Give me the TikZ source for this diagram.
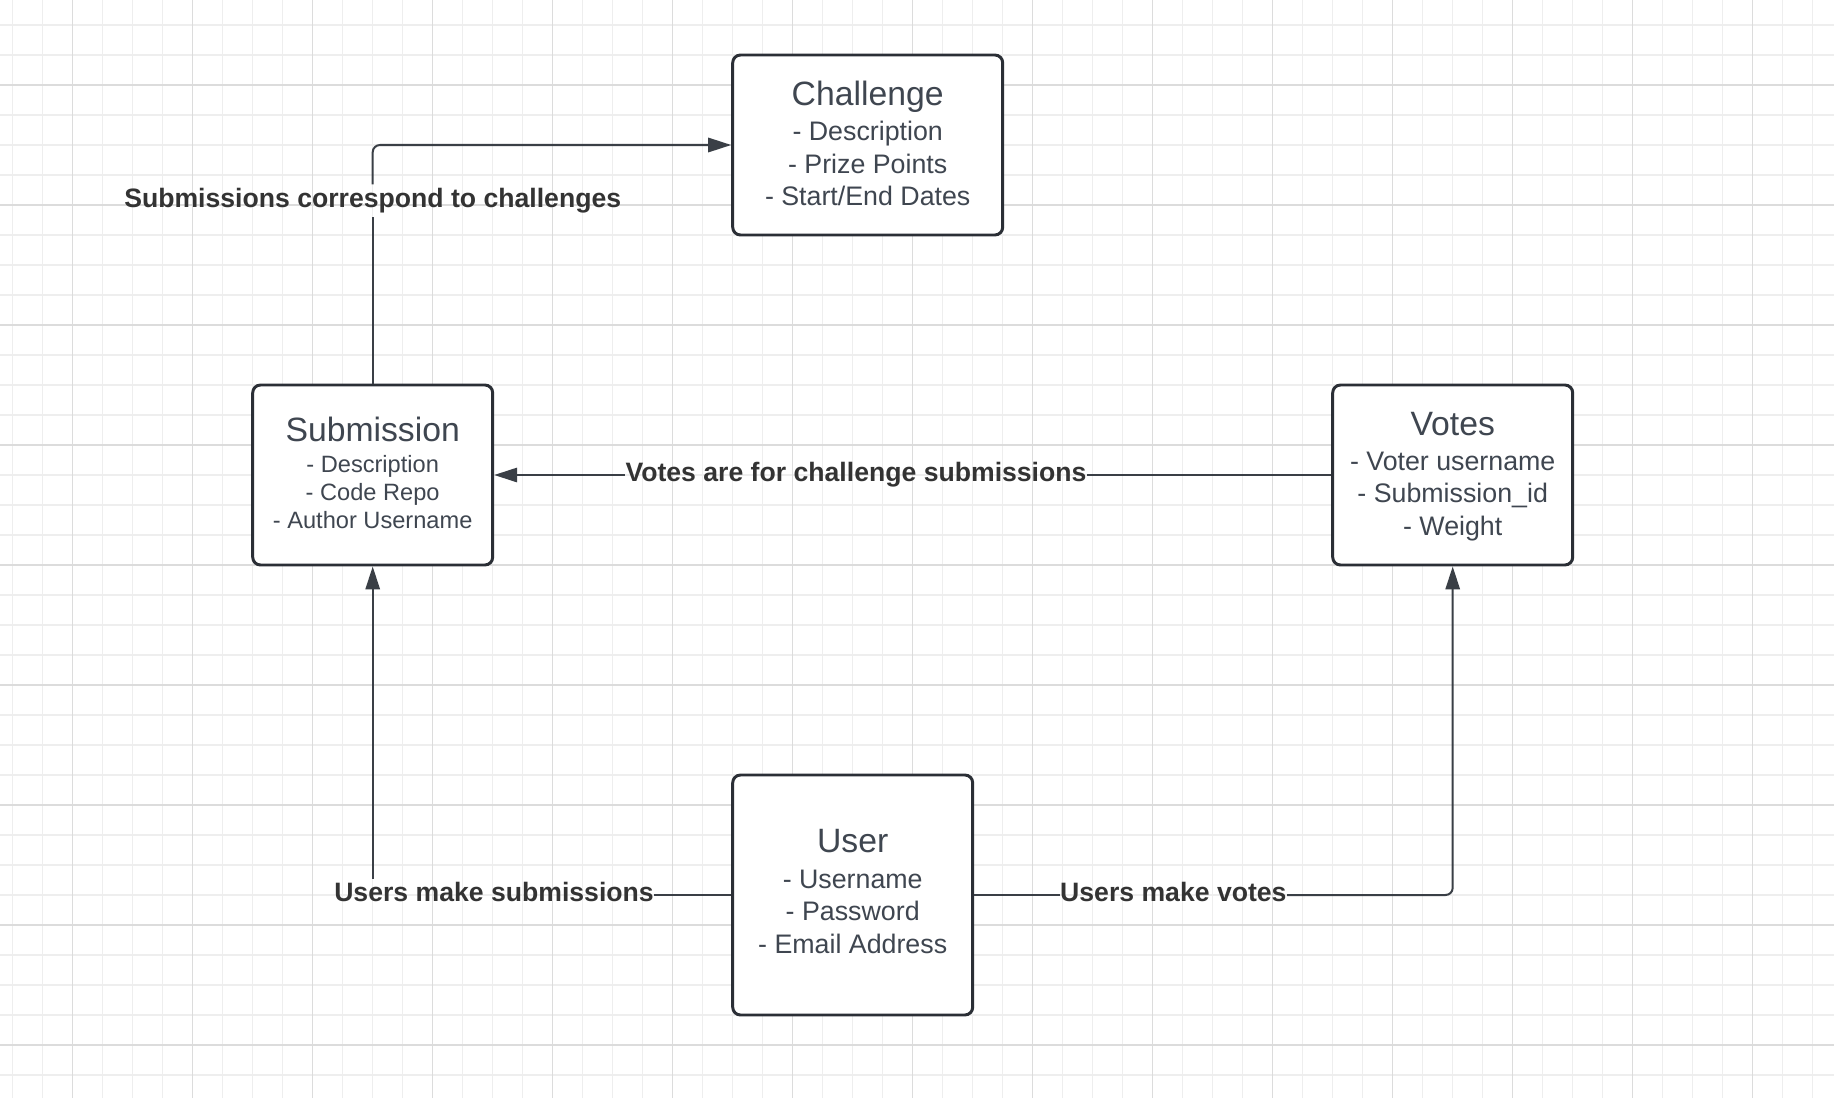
\documentclass[tikz,border=0pt]{standalone}
\usepackage{fontspec}
\setmainfont{Liberation Sans}
\usepackage{xcolor}
\usetikzlibrary{arrows.meta}

\definecolor{boxline}{HTML}{2B2F36}
\definecolor{boxtext}{HTML}{3F4650}
\definecolor{reltext}{HTML}{333333}
\definecolor{conline}{HTML}{3A3F46}
\definecolor{gridlo}{HTML}{EEEEEE}
\definecolor{gridhi}{HTML}{DCDCDC}

\begin{document}
\begin{tikzpicture}[
                ent/.style={draw=boxline, line width=1.4pt, fill=white, rounded corners=0.13cm, text=boxtext, align=center, inner sep=0pt, minimum width=4cm, minimum height=3cm, text depth=1.9pt, font=\fontsize{12.7}{15.3}\selectfont},
                rel/.style={text=reltext, inner xsep=0pt, inner ysep=1.6pt, text height=9pt, text depth=3pt, font=\bfseries\fontsize{12.62}{15}\selectfont},
                con/.style={draw=conline, line width=0.95pt, rounded corners=0.12cm},
                tip/.style={-{Triangle[length=10.9pt, width=6.8pt]}},
                minorgrid/.style={draw=gridlo, line width=0.5pt, step=0.5},
                majorgrid/.style={draw=gridhi, line width=0.5pt, step=2}]
                \useasboundingbox[fill=white] (-1.2117, -16.8833) rectangle (29.355, 1.4167);
                \draw[minorgrid] (-1.2117, -16.8833) grid (29.355, 1.4167);
                \draw[majorgrid] (-1.2117, -16.8833) grid (29.355, 1.4167);

                \node[ent, minimum width=4.5cm] (ch) at (13.25, -1) {{\fontsize{16}{15}\selectfont Challenge}\\[1.6pt] - Description\\ - Prize Points\\ - Start/End Dates};
                \node[ent, text depth=2.2pt, font=\fontsize{11.2}{13.3}\selectfont] (sub) at (5, -6.5) {{\fontsize{16}{15}\selectfont Submission}\\[1.6pt] - Description\\ - Code Repo\\ - Author Username};
                \node[ent, text depth=1.4pt] (vot) at (23, -6.5) {{\fontsize{16}{15}\selectfont Votes}\\[1.6pt] - Voter username\\ - Submission\_id\\ - Weight};
                \node[ent, minimum height=4cm, text depth=3.5pt] (usr) at (13, -13.5) {{\fontsize{16}{15}\selectfont User}\\[1.6pt] - Username\\ - Password\\ - Email Address};

                \node[rel] (subch) at (5, -1.93) {Submissions correspond to challenges};
                \node[rel] (votsub) at (13.055, -6.5) {Votes are for challenge submissions};
                \node[rel] (usrsub) at (7.022, -13.5) {Users make submissions};
                \node[rel] (usrvot) at (18.345, -13.5) {Users make votes};

                \draw[con]
                (sub.north) -- (subch.south)
                (vot.west) -- (votsub.east)
                (usr.west) -- (usrsub.east)
                (usr.east) -- (usrvot.west);
                \draw[con, tip] (subch.north) |- (ch.west);
                \draw[con, tip] (votsub.west) -- (sub.east);
                \draw[con, tip] (usrsub.north -| sub.south) -- (sub.south);
                \draw[con, tip] (usrvot.east) -| (vot.south);
\end{tikzpicture}
\end{document}
